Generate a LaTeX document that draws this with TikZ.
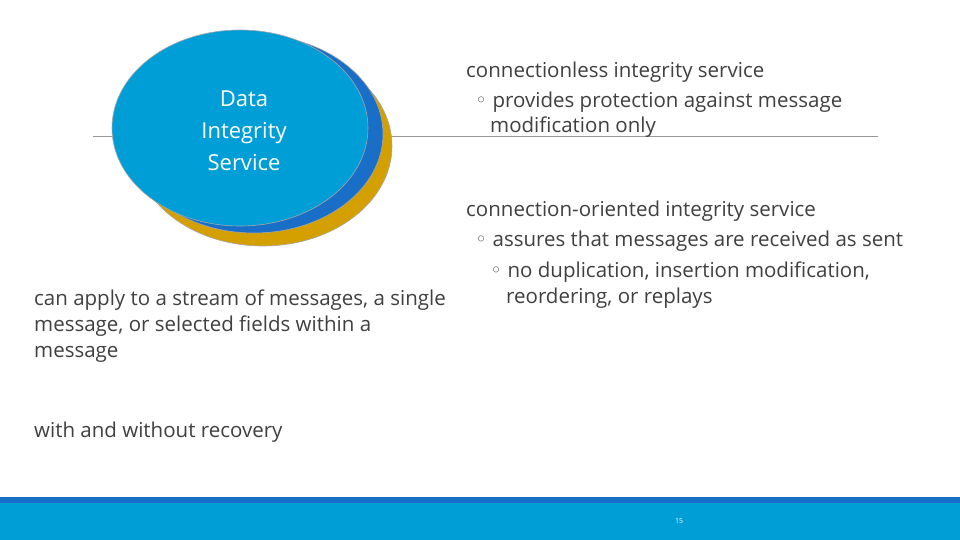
\documentclass[tikz,border=0pt]{standalone}
\usepackage{fontspec}
\setmainfont{Open Sans}
\newfontfamily\djv{DejaVu Sans}
\definecolor{cgold}{RGB}{212,160,0}
\definecolor{cdark}{RGB}{25,110,200}
\definecolor{clight}{RGB}{0,158,214}
\newcommand{\bul}{{\djv\textcolor{black!60}{◦}}}
\begin{document}
\begin{tikzpicture}[x=1pt,y=-1pt,
  txt/.style={anchor=base west,inner sep=0pt,text=black!75,font=\fontsize{20.5}{24}\selectfont},
  ell/.style={draw=gray!70,line width=0.6pt}]
\useasboundingbox (0,0) rectangle (960,540);
\fill[white] (0,0) rectangle (960,540);
\draw[gray!80,line width=0.7pt] (93,136) coordinate (l1) -- (878,136) coordinate (l2);
\filldraw[ell,fill=cgold] (263,146) ellipse [x radius=129,y radius=100];
\filldraw[ell,fill=cdark] (254,134) ellipse [x radius=129,y radius=99];
\filldraw[ell,fill=clight] (240,128) ellipse [x radius=128,y radius=98];
\node[align=center,text=white,font=\fontsize{22}{32}\selectfont] (d) at (244,131) {Data\\Integrity\\Service};
\node[txt] (a1) at (466,78) {connectionless integrity service};
\node[txt] (a2) at (475,108) {\bul{} provides protection against message};
\node[txt] (a3) at (490,133) {modification only};
\node[txt] (b1) at (466,216) {connection-oriented integrity service};
\node[txt] (b2) at (475,246) {\bul{} assures that messages are received as sent};
\node[txt] (b3) at (490,277) {\bul{} no duplication, insertion modification,};
\node[txt] (b4) at (506,303) {reordering, or replays};
\node[txt] (c1) at (34,305) {can apply to a stream of messages, a single};
\node[txt] (c2) at (34,331) {message, or selected fields within a};
\node[txt] (c3) at (34,357) {message};
\node[txt] (e1) at (34,437) {with and without recovery};
\fill[cdark] (0,497) rectangle (960,503);
\fill[clight] (0,503) rectangle (960,540);
\node[text=white,font=\fontsize{7}{8}\selectfont] (pg) at (679,521) {15};
\end{tikzpicture}
\end{document}
